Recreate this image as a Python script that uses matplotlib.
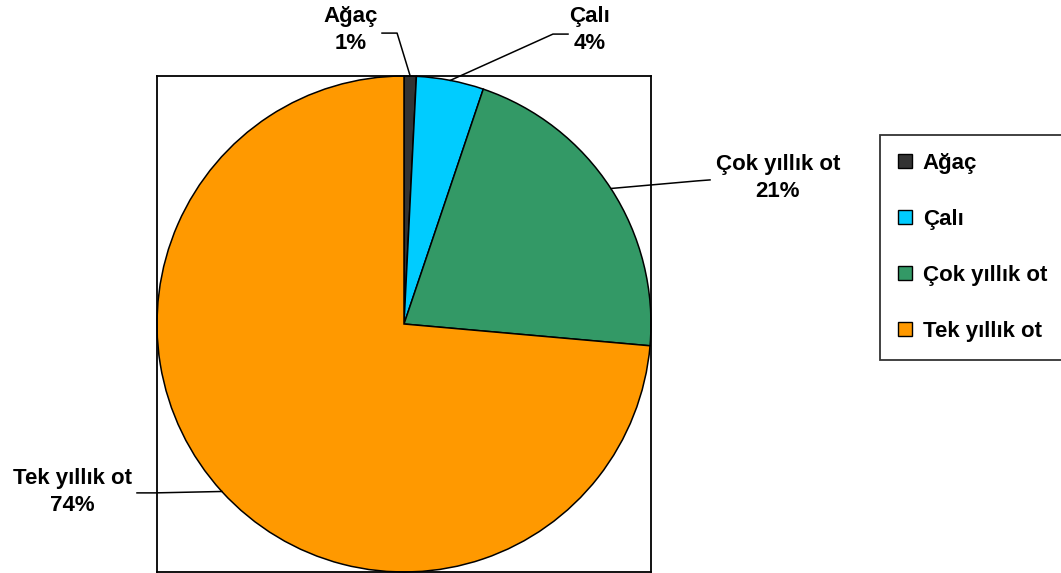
import matplotlib.pyplot as plt
import numpy as np

plt.rcParams['font.family'] = ['Liberation Sans', 'DejaVu Sans']

names = ["Ağaç", "Çalı", "Çok yıllık ot", "Tek yıllık ot"]
shares = [0.8, 4.4, 21.2, 73.6]
colors = ["#333333", "#00CCFF", "#339966", "#FF9900"]

# label centres and leader knee/end points (data units, pie radius = 1)
label_pos = [(-0.215, 1.185), (0.753, 1.185), (1.514, 0.589), (-1.344, -0.677)]
knee_pos = [(-0.028, 1.173), (0.603, 1.169), (1.186, 0.577), (-1.008, -0.681)]
stub_pos = [(-0.089, 1.173), (0.664, 1.169), (1.239, 0.581), (-1.081, -0.681)]

W, H = 1061, 573
fig = plt.figure(figsize=(W / 100, H / 100), dpi=100)
ax = fig.add_axes([157 / W, 1 / H, 494 / W, 496 / H])

wedges, _ = ax.pie(shares, colors=colors, startangle=90, counterclock=False,
                   frame=True,
                   wedgeprops=dict(edgecolor="black", linewidth=1.1))
ax.set_aspect("auto")
ax.set_xlim(-1, 1)
ax.set_ylim(-1, 1)
ax.set_xticks([])
ax.set_yticks([])
for s in ax.spines.values():
    s.set_color("black")
    s.set_linewidth(1.3)

total = sum(shares)
cum = 0
for name, v, lp, kp, sp in zip(names, shares, label_pos, knee_pos, stub_pos):
    mid = np.deg2rad(90 - (cum + v / 2) / total * 360)
    cum += v
    edge = (np.cos(mid), np.sin(mid))
    ax.plot([edge[0], kp[0], sp[0]], [edge[1], kp[1], sp[1]],
            color="black", linewidth=1.1, clip_on=False)
    ax.text(lp[0], lp[1], f"{name}\n{v / total * 100:.0f}%",
            ha="center", va="center", multialignment="center",
            fontsize=16, fontweight="bold", linespacing=1.35)

leg = fig.legend(wedges, names, loc="upper left",
                 bbox_to_anchor=(880 / W, 1 - 135 / H),
                 prop=dict(weight="bold", size=16),
                 frameon=True, fancybox=False, edgecolor="black",
                 handlelength=0.62, handleheight=0.62, handletextpad=0.5,
                 labelspacing=1.58, borderpad=0.8, borderaxespad=0)
leg.get_frame().set_linewidth(1.3)
for h in leg.legend_handles:
    h.set_edgecolor("black")
    h.set_linewidth(1.0)

fig.savefig("out.png", dpi=100)
